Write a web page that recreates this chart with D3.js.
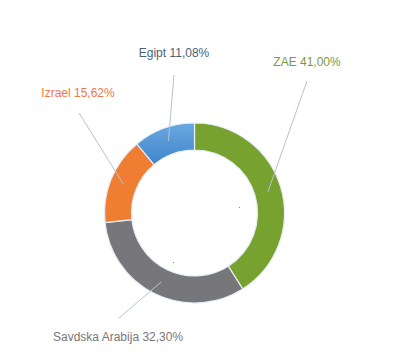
<!DOCTYPE html>
<html><head><meta charset="utf-8">
<script src="https://cdn.jsdelivr.net/npm/d3@7"></script>
<style>body{margin:0;background:#fff}svg{display:block}text{font-family:"Liberation Sans",Arial,sans-serif;font-size:12px}</style>
</head><body><svg id="c" width="393" height="356"></svg>
<script>
const categories = ["ZAE", "Savdska Arabija", "Izrael", "Egipt"];
const values = [41.00, 32.30, 15.62, 11.08];
const labels = ["ZAE  41,00%", "Savdska Arabija 32,30%", "Izrael  15,62%", "Egipt 11,08%"];
const colors = ["#77a230", "#77777b", "#ef7e33", "#5a9bd7"];
const labelColors = ["#7b9a3b", "#7a7678", "#f0774a", "#4c5f74"];
const labelPos = [[307, 66], [119, 341], [78, 97], [174, 57]];
const lineEnds = [[307, 81], [119, 318], [79, 113], [174, 75]];

const svg = d3.select("#c");
const cx = 194.5, cy = 213, rO = 90, rI = 63;
const g = svg.append("g").attr("transform", `translate(${cx},${cy})`);
const pie = d3.pie().sort(null).value(d => d)(values);
const arc = d3.arc().innerRadius(rI).outerRadius(rO);
const mid = d3.arc().innerRadius((rI + rO) / 2).outerRadius((rI + rO) / 2);

const defs = svg.append("defs");
const lg = defs.append("linearGradient").attr("id", "bl").attr("x1", 0).attr("y1", 0).attr("x2", 0).attr("y2", 1);
lg.append("stop").attr("offset", "0%").attr("stop-color", "#6aa8e0");
lg.append("stop").attr("offset", "100%").attr("stop-color", "#3f86cc");

g.selectAll("path.s").data(pie).join("path").attr("class", "s")
  .attr("d", arc)
  .attr("fill", (d, i) => i === 3 ? "url(#bl)" : colors[i])
  .attr("stroke", "#e6eef8").attr("stroke-width", 1.2);

g.selectAll("line.l").data(pie).join("line").attr("class", "l")
  .attr("x1", d => mid.centroid(d)[0]).attr("y1", d => mid.centroid(d)[1])
  .attr("x2", (d, i) => lineEnds[i][0] - cx).attr("y2", (d, i) => lineEnds[i][1] - cy)
  .attr("stroke", "#b8c1d3").attr("stroke-width", 1);

svg.selectAll("text.lb").data(labels).join("text").attr("class", "lb")
  .attr("x", (d, i) => labelPos[i][0]).attr("y", (d, i) => labelPos[i][1])
  .attr("text-anchor", (d, i) => i === 1 ? "start" : "middle")
  .attr("fill", (d, i) => labelColors[i])
  .attr("dx", (d, i) => i === 1 ? -66 : 0)
  .text(d => d);

// tiny marker dots
[[239, 207], [173, 262]].forEach(p => svg.append("rect").attr("x", p[0]).attr("y", p[1]).attr("width", 1).attr("height", 1).attr("fill", "#888"));
</script></body></html>
